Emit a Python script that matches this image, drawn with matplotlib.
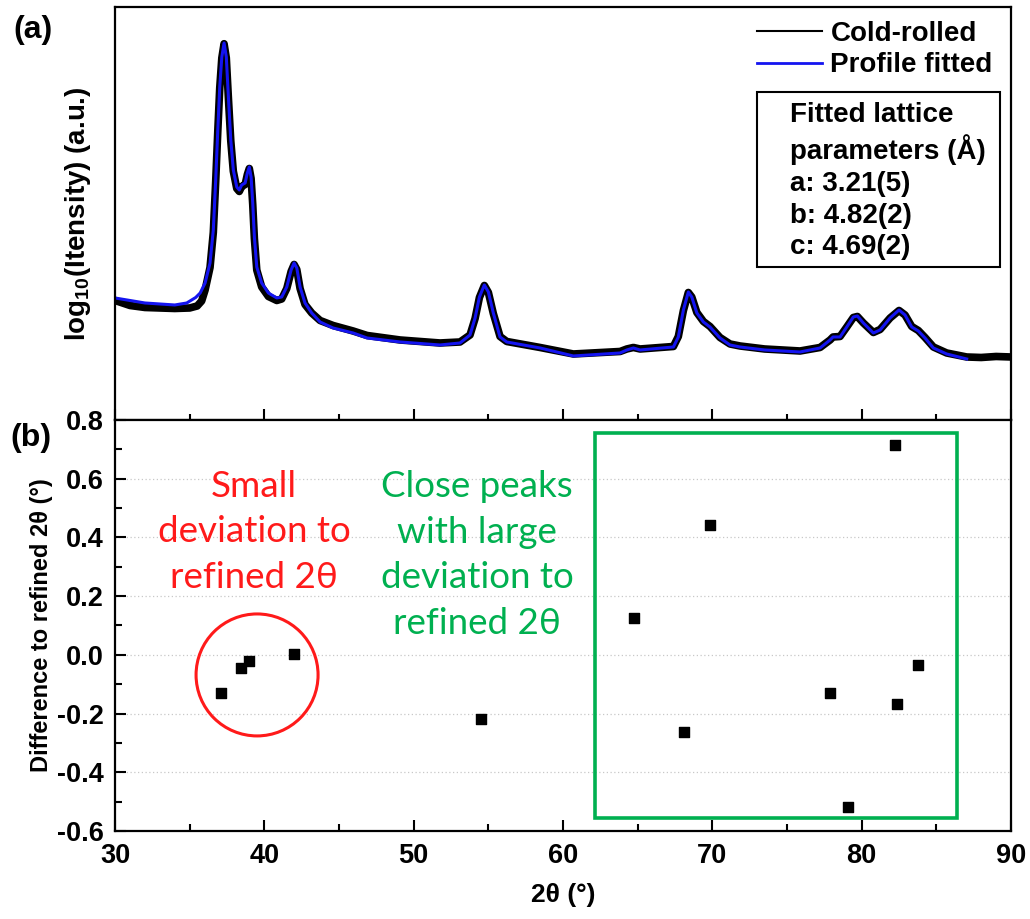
import matplotlib

matplotlib.use("Agg")
import matplotlib.pyplot as plt
from matplotlib.lines import Line2D
from matplotlib.patches import Ellipse, Rectangle
from matplotlib.ticker import MultipleLocator

plt.rcParams["font.family"] = ["Liberation Sans", "DejaVu Sans"]
plt.rcParams["font.weight"] = "bold"
plt.rcParams["mathtext.fontset"] = "custom"
plt.rcParams["mathtext.rm"] = "Liberation Sans"
plt.rcParams["mathtext.bf"] = "Liberation Sans:bold"

# (a) profile fit, log10 intensity
fit_2theta = [30.0, 32.0, 34.0, 34.8, 35.4, 35.7, 36.03, 36.36, 36.58, 36.74, 36.88, 37.01,
              37.15, 37.30, 37.45, 37.59, 37.75, 37.92, 38.15, 38.32, 38.48, 38.71, 38.86, 38.99,
              39.11, 39.22, 39.33, 39.49, 39.82, 40.27, 40.83, 41.16, 41.50, 41.79, 41.99, 42.17,
              42.39, 42.72, 43.17, 43.73, 44.60, 45.94, 46.88, 49.09, 51.76, 53.10, 53.77, 54.11,
              54.40, 54.73, 55.00, 55.33, 55.78, 56.23, 58.46, 60.69, 63.82, 64.27, 64.71, 65.16,
              67.39, 67.72, 68.06, 68.39, 68.62, 68.96, 69.40, 69.84, 70.51, 71.18, 71.85, 73.50,
              75.87, 77.21, 77.88, 78.08, 78.55, 79.00, 79.44, 79.71, 80.11, 80.78, 81.23, 81.90,
              82.50, 82.90, 83.35, 83.79, 84.24, 84.80, 85.69, 87.03]
fit_log_i = [2.488, 2.468, 2.460, 2.468, 2.490, 2.508, 2.548, 2.628, 2.760, 2.960, 3.160, 3.332,
             3.452, 3.508, 3.452, 3.292, 3.120, 3.000, 2.932, 2.920, 2.940, 2.948, 2.988, 3.012,
             2.972, 2.868, 2.732, 2.612, 2.548, 2.508, 2.488, 2.492, 2.532, 2.600, 2.628, 2.608,
             2.532, 2.468, 2.428, 2.392, 2.368, 2.348, 2.328, 2.312, 2.300, 2.308, 2.340, 2.408,
             2.492, 2.540, 2.512, 2.428, 2.332, 2.312, 2.288, 2.256, 2.268, 2.280, 2.288, 2.280,
             2.292, 2.332, 2.440, 2.512, 2.492, 2.428, 2.392, 2.372, 2.328, 2.300, 2.292, 2.280,
             2.272, 2.288, 2.320, 2.332, 2.332, 2.372, 2.412, 2.416, 2.388, 2.348, 2.360, 2.408,
             2.440, 2.420, 2.372, 2.356, 2.328, 2.288, 2.264, 2.244]

# (a) measured cold-rolled pattern
obs_2theta = [30.0, 31.0, 32.0, 33.0, 34.0, 35.0, 35.5, 35.8, 36.03, 36.36, 36.58, 36.74, 36.88,
              37.01, 37.15, 37.30, 37.45, 37.59, 37.75, 37.92, 38.15, 38.32, 38.48, 38.71, 38.86,
              38.99, 39.11, 39.22, 39.33, 39.49, 39.82, 40.27, 40.83, 41.16, 41.50, 41.79, 41.99,
              42.17, 42.39, 42.72, 43.17, 43.73, 44.60, 45.94, 46.88, 49.09, 51.76, 53.10, 53.77,
              54.11, 54.40, 54.73, 55.00, 55.33, 55.78, 56.23, 58.46, 60.69, 63.82, 64.27, 64.71,
              65.16, 67.39, 67.72, 68.06, 68.39, 68.62, 68.96, 69.40, 69.84, 70.51, 71.18, 71.85,
              73.50, 75.87, 77.21, 77.88, 78.08, 78.55, 79.00, 79.44, 79.71, 80.11, 80.78, 81.23,
              81.90, 82.50, 82.90, 83.35, 83.79, 84.24, 84.80, 85.69, 87.03, 88.0, 89.0, 90.0]
obs_log_i = [2.478, 2.458, 2.450, 2.448, 2.446, 2.448, 2.456, 2.476, 2.520, 2.610, 2.750, 2.955,
             3.155, 3.328, 3.448, 3.505, 3.448, 3.288, 3.116, 2.995, 2.926, 2.914, 2.934, 2.942,
             2.982, 3.006, 2.966, 2.862, 2.726, 2.600, 2.532, 2.494, 2.478, 2.484, 2.526, 2.594,
             2.622, 2.602, 2.526, 2.462, 2.428, 2.398, 2.378, 2.356, 2.338, 2.320, 2.308, 2.312,
             2.340, 2.406, 2.490, 2.538, 2.510, 2.426, 2.334, 2.314, 2.290, 2.264, 2.274, 2.284,
             2.290, 2.284, 2.294, 2.334, 2.438, 2.510, 2.492, 2.430, 2.394, 2.374, 2.330, 2.304,
             2.296, 2.284, 2.276, 2.290, 2.320, 2.332, 2.334, 2.372, 2.410, 2.414, 2.388, 2.350,
             2.362, 2.408, 2.438, 2.420, 2.374, 2.358, 2.330, 2.292, 2.268, 2.252, 2.250, 2.254,
             2.252]

# (b) peak position deviations
peak_2theta = [37.1, 38.44, 38.97, 41.99, 54.51, 64.76, 68.1, 69.85, 77.9, 79.1, 82.24, 82.38, 83.78]
peak_dev = [-0.13, -0.045, -0.02, 0.003, -0.22, 0.126, -0.263, 0.442, -0.13, -0.518, 0.715, -0.167, -0.034]

lattice_text = "Fitted lattice\nparameters (Å)\na: 3.21(5)\nb: 4.82(2)\nc: 4.69(2)"
small_text = "Small\ndeviation to\nrefined 2θ"
close_text = "Close peaks\nwith large\ndeviation to\nrefined 2θ"

RED = "#ff1a1a"
GREEN = "#00b050"
BLUE = "#1414f0"

fig = plt.figure(figsize=(10.3, 9.19), dpi=100)
ax1 = fig.add_axes([0.1117, 0.543, 0.8699, 0.4494])
ax2 = fig.add_axes([0.1117, 0.0958, 0.8699, 0.4472])

for ax in (ax1, ax2):
    for sp in ax.spines.values():
        sp.set_linewidth(1.6)
    ax.set_xlim(30, 90)
    ax.xaxis.set_major_locator(MultipleLocator(10))
    ax.xaxis.set_minor_locator(MultipleLocator(5))

# ---- (a) ----
ax1.plot(obs_2theta, obs_log_i, color="black", lw=5.5, solid_joinstyle="round")
ax1.plot(fit_2theta, fit_log_i, color=BLUE, lw=2.2, solid_joinstyle="round")
ax1.set_ylim(2.0, 3.652)
ax1.set_yticks([])
ax1.tick_params(axis="x", which="both", direction="in", labelbottom=False, width=1.5)
ax1.tick_params(axis="x", which="major", length=8)
ax1.tick_params(axis="x", which="minor", length=4)
ax1.set_ylabel(r"log$_{\mathbf{10}}$(Itensity) (a.u.)", fontsize=20, fontweight="bold", labelpad=16)

handles = [Line2D([], [], color="black", lw=1.5), Line2D([], [], color=BLUE, lw=2.0)]
ax1.legend(handles, ["Cold-rolled", "Profile fitted"], loc="upper right", frameon=False,
           prop={"size": 20, "weight": "bold"}, handlelength=2.35, handletextpad=0.3,
           labelspacing=0.2, borderaxespad=0.1, bbox_to_anchor=(0.995, 1.0))

ax1.add_patch(Rectangle((0.7165, 0.3705), 0.2712, 0.4235, transform=ax1.transAxes,
                        fill=False, lw=1.5, ec="black"))
ax1.text(0.7533, 0.771, lattice_text, transform=ax1.transAxes, ha="left", va="top",
         fontsize=20, fontweight="bold", linespacing=1.28)

# ---- (b) ----
ax2.scatter(peak_2theta, peak_dev, marker="s", s=60, color="black", zorder=3)
ax2.set_ylim(-0.6, 0.8)
ax2.yaxis.set_minor_locator(MultipleLocator(0.1))
ax2.set_yticks([-0.6, -0.4, -0.2, 0.0, 0.2, 0.4, 0.6, 0.8])
ax2.set_yticklabels(["-0.6", "-0.4", "-0.2", "0.0", "0.2", "0.4", "0.6", "0.8"])
for yv in [-0.4, -0.2, 0.0, 0.2, 0.4, 0.6]:
    ax2.axhline(yv, color="#c8c8c8", lw=0.9, ls=(0, (1, 2)), zorder=0)
ax2.tick_params(axis="both", which="both", direction="in", width=1.5, labelsize=19.5)
ax2.tick_params(axis="both", which="major", length=8)
ax2.tick_params(axis="both", which="minor", length=5)
ax2.tick_params(axis="x", pad=9)
ax2.tick_params(axis="y", pad=8)
ax2.set_xlabel("2θ (°)", fontsize=19, fontweight="bold", labelpad=10)
ax2.set_ylabel("Difference to refined 2θ (°)", fontsize=17, fontweight="bold", labelpad=3)

ax2.add_patch(Ellipse((39.51, -0.0685), 8.17, 0.4155, fill=False, ec=RED, lw=2.2))
ax2.add_patch(Rectangle((62.15, -0.556), 24.25, 1.312, fill=False, ec=GREEN, lw=2.6))
ax2.text(39.31, 0.4185, small_text, ha="center", va="center", color=RED,
         fontsize=26.5, fontweight="normal", family=["Lato", "DejaVu Sans"], linespacing=1.48)
ax2.text(54.25, 0.34, close_text, ha="center", va="center", color=GREEN,
         fontsize=26.5, fontweight="normal", family=["Lato", "DejaVu Sans"], linespacing=1.48)

fig.text(0.032, 0.967, "(a)", fontsize=23, fontweight="bold", ha="center", va="center")
fig.text(0.03, 0.523, "(b)", fontsize=23, fontweight="bold", ha="center", va="center")

fig.savefig("out.png", dpi=100)
